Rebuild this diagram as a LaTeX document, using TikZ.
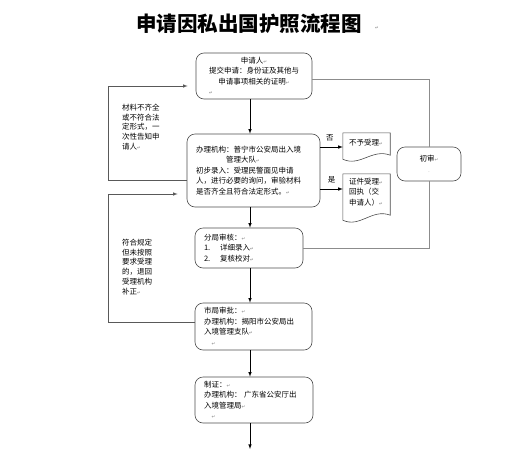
\documentclass[tikz,border=0pt]{standalone}
\usepackage{fontspec}
\newfontfamily\cjk{Noto Sans CJK SC}
\newfontfamily\symf{DejaVu Sans}
\usepackage{tikz}
\usetikzlibrary{arrows}
\usetikzlibrary{calc}
\newcommand{\pmk}{{\symf\color{gray}\fontsize{4.5}{4.5}\selectfont ↵}}

\begin{document}
\begin{tikzpicture}[x=1pt, y=-1pt, >=latex,
  box/.style={draw=black!70, line width=0.6pt, rounded corners=8pt, inner xsep=9pt, inner ysep=2pt, align=left, font=\cjk\fontsize{7.5}{10.5}\selectfont},
  doc/.style={inner xsep=6pt, inner ysep=1pt, align=left, font=\cjk\fontsize{7.5}{10.5}\selectfont},
  note/.style={inner sep=0pt, align=left, font=\cjk\fontsize{7.5}{9.7}\selectfont},
  flow/.style={->, line width=0.6pt},
  back/.style={->, draw=black!65, line width=0.6pt},
  link/.style={draw=black!45, line width=0.7pt}]
\useasboundingbox (0,0) rectangle (516,450);
\node[font=\cjk\bfseries\fontsize{20.5}{24}\selectfont] (title) at (249,24) {申请因私出国护照流程图};
\node (tmark) at (377,28) {\pmk};

\node[box, align=center, text width=98pt, minimum height=46pt] (apply) at (254,76) {申请人\pmk\\提交申请：身份证及其他与\\申请事项相关的证明\pmk\\\makebox[90pt][l]{\pmk}};
\node[box, text width=115pt, minimum height=73pt] (accept) at (253.5,170.5) {办理机构：普宁市公安局出入境\\\hspace*{4em}管理大队\pmk\\初步录入：受理民警面见申请\\人，进行必要的询问，审验材料\\是否齐全且符合法定形式。\pmk};
\node[box, text width=90pt, minimum height=40pt] (branch) at (249,248) {分局审核：\pmk\\1.\hspace{1.3em}详细录入\pmk\\2.\hspace{1.3em}复核校对\pmk};
\node[box, text width=99pt, minimum height=47pt] (city) at (253.5,326.5) {市局审批：\pmk\\办理机构：揭阳市公安局出\\入境管理支队\pmk\\\hspace*{1em}\pmk};
\node[box, text width=100pt, minimum height=46pt] (issue) at (254,400) {制证：\pmk\\办理机构：\ 广东省公安厅出\\入境管理局\pmk\\\hspace*{1em}\pmk};
\node[box, align=center, text width=46pt, minimum height=34pt] (check) at (429,164) {初审\pmk\\{\color{gray}\tiny .}};

\node[doc, text width=35pt, minimum height=20pt] (refuse) at (366.5,143) {不予受理\pmk};
\node[doc, text width=35pt, minimum height=36pt] (receipt) at (366.5,192) {证件受理\pmk\\回执（交\\申请人）\pmk};
\draw[black!70, line width=0.6pt] (refuse.north west) -- (refuse.north east) -- ($(refuse.south east)+(0,2)$) .. controls +(-18,-7) and +(17,8) .. ($(refuse.south west)+(0,6)$) -- cycle;
\draw[black!70, line width=0.6pt] (receipt.north west) -- (receipt.north east) -- ($(receipt.south east)+(0,5)$) .. controls +(-18,-7) and +(17,8) .. ($(receipt.south west)+(0,10)$) -- cycle;

\node[note, anchor=north west] (lacking) at (122,104) {材料不齐全\\或不符合法\\定形式，一\\次性告知申\\请人\pmk};
\node[note, anchor=north west] (redo) at (122,239) {符合规定\\但未按照\\要求受理\\的，退回\\受理机构\\补正\pmk};

\coordinate (spine) at (250,0);
\coordinate (bottom) at (250,449);
\coordinate (no) at ([yshift=-4pt]refuse.west);
\coordinate (yes) at ([yshift=3pt]receipt.west);

\draw[flow] (apply.south -| spine) -- (accept.north -| spine);
\draw[flow] (accept.south -| spine) -- (branch.north -| spine);
\draw[flow] (branch.south -| spine) -- (city.north -| spine);
\draw[flow] (city.south -| spine) -- (issue.north -| spine);
\draw[flow] (issue.south -| spine) -- (bottom);

\draw[flow] (no -| accept.east) -- (no) node[pos=0.43, above=2pt, font=\cjk\fontsize{7.5}{9}\selectfont] {否};
\draw[flow] (yes -| accept.east) -- (yes) node[pos=0.5, above=2pt, font=\cjk\fontsize{7.5}{9}\selectfont] {是};

\draw[link] ([yshift=-3pt]apply.east) -| (check.north);
\draw[link] (check.south) |- (branch.east);

\draw[back, shorten >=8pt] ([yshift=-9.5pt]accept.west) -- ++(-78,0) |- ([yshift=-10pt]apply.west);
\draw[back, shorten >=9pt] ([yshift=4.5pt]city.west) -- ++(-86,0) |- ([yshift=-23.5pt]accept.west);
\end{tikzpicture}
\end{document}
